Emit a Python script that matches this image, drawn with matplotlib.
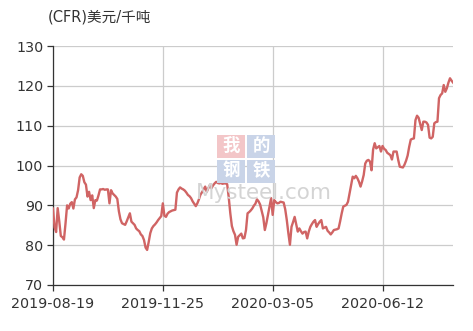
import numpy as np
import pandas as pd
from matplotlib import pyplot as plt
from matplotlib.patches import Rectangle

plt.rcParams['font.family'] = ['DejaVu Sans', 'Noto Sans CJK SC']

# trading days (index holidays removed) and CFR price, USD/dmt
holidays = ['2019-12-25', '2019-12-26', '2020-01-01', '2020-04-10']
dates = pd.bdate_range('2019-08-19', '2020-08-14', freq='C', holidays=holidays)
tick_dates = ['2019-08-19', '2019-11-25', '2020-03-05', '2020-06-12']
unit = '(CFR)美元/千吨'
price = [
    89.2, 84.5, 83.3, 89.3, 86.0, 82.3, 82.0, 81.4, 85.5, 90.0,
    89.2, 90.4, 90.8, 89.2, 91.5, 92.0, 93.8, 97.0, 97.8, 97.4,
    95.8, 95.2, 92.2, 93.4, 91.3, 92.5, 89.3, 91.3, 91.2, 92.5,
    94.0, 94.0, 94.1, 93.9, 94.0, 94.0, 90.5, 93.8, 93.0, 92.6,
    92.2, 91.6, 88.5, 86.5, 85.5, 85.3, 85.1, 86.0, 87.0, 88.0,
    85.9, 85.5, 85.1, 84.2, 83.8, 83.5, 82.7, 82.3, 81.3, 79.4,
    78.8, 80.8, 83.0, 84.2, 84.8, 85.2, 85.7, 86.3, 86.8, 87.3,
    90.5, 87.4, 87.1, 87.9, 88.3, 88.5, 88.7, 88.8, 88.9, 93.2,
    94.0, 94.5, 94.2, 94.0, 93.7, 93.2, 92.6, 92.3, 91.8, 91.0,
    90.4, 89.8, 90.5, 91.5, 92.7, 93.3, 94.0, 94.7, 93.4, 94.3,
    95.1, 94.3, 95.0, 95.5, 95.9, 95.6, 95.5, 95.6, 95.4, 95.5,
    95.5, 95.3, 92.0, 88.0, 84.8, 83.5, 82.6, 80.1, 82.1, 82.5,
    82.9, 81.7, 81.8, 83.8, 88.0, 88.3, 88.7, 89.2, 89.9, 90.4,
    91.5, 91.0, 90.2, 88.6, 87.0, 83.8, 85.5, 87.6, 89.8, 91.8,
    87.6, 91.3, 90.8, 90.5, 90.6, 90.9, 90.8, 90.7, 89.0, 86.3,
    83.0, 80.1, 84.6, 85.8, 87.1, 85.2, 83.4, 84.2, 83.5, 82.9,
    83.3, 83.4, 81.7, 83.4, 84.6, 85.3, 85.9, 86.3, 84.6, 85.3,
    85.9, 86.3, 84.2, 84.4, 84.6, 83.6, 83.2, 82.7, 83.2, 83.8,
    83.9, 84.0, 84.2, 86.0, 88.0, 89.7, 89.9, 90.1, 90.9, 93.0,
    95.0, 97.2, 96.8, 97.4, 96.8, 95.9, 94.7, 96.0, 97.6, 100.5,
    101.2, 101.4, 101.0, 98.8, 104.0, 105.6, 104.3, 104.6, 104.9, 103.5,
    104.9, 104.2, 103.9, 103.2, 102.9, 102.6, 101.5, 103.5, 103.5, 103.5,
    101.4, 99.7, 99.6, 99.5, 100.2, 101.2, 102.5, 104.7, 106.5, 106.7,
    106.8, 111.4, 112.5, 112.0, 110.5, 108.9, 111.0, 111.0, 110.8, 110.2,
    107.0, 106.8, 107.2, 110.6, 110.9, 111.0, 116.9, 117.7, 118.1, 120.2,
    118.5, 119.4, 120.8, 121.9, 121.3, 120.8,
]

labels = [d.strftime('%Y-%m-%d') for d in dates]
x = np.arange(len(labels))
tick_pos = [labels.index(d) for d in tick_dates]

W, H = 473, 331
fig = plt.figure(figsize=(4.73, 3.31), dpi=100)
ax = fig.add_axes([0.112, 0.139, 0.846, 0.722])

# watermark: four coloured blocks plus the site name
for ch, bx, by, fc in [('我', 217, 135, '#f3c6c8'), ('的', 247, 135, '#c9d4e8'),
                       ('钢', 217, 160, '#c9d4e8'), ('铁', 247, 160, '#c9d4e8')]:
    fig.patches.append(Rectangle((bx / W, 1 - (by + 23) / H), 28 / W, 23 / H,
                                 transform=fig.transFigure, fc=fc, ec='none', zorder=0))
    fig.text((bx + 14) / W, 1 - (by + 11) / H, ch, ha='center', va='center', color='white',
             fontsize=12.5, family=['Noto Sans CJK SC'], fontweight='bold', zorder=1)
fig.text(264 / W, 1 - 193 / H, 'Mysteel.com', ha='center', va='center', color='#d4d4d4',
         fontsize=15.5, zorder=1)

ax.plot(x, price, color='#d06464', lw=1.7, zorder=3)
ax.set_xlim(0, len(labels) - 1)
ax.set_ylim(70, 130)
ax.set_yticks(range(70, 131, 10))
ax.set_xticks(tick_pos, tick_dates)
ax.patch.set_alpha(0)

ax.grid(color='#cccccc', lw=0.9)
ax.set_axisbelow(True)
for s in ['top', 'right']:
    ax.spines[s].set_visible(False)
for s in ['left', 'bottom']:
    ax.spines[s].set_color('#333333')
    ax.spines[s].set_linewidth(0.9)
ax.tick_params(axis='both', colors='#333333', labelsize=10.3, length=4, width=0.9)
ax.tick_params(axis='x', pad=5)
ax.tick_params(axis='y', pad=3)

fig.text(48 / W, 1 - 17 / H, unit, ha='left', va='center', color='#333333', fontsize=10.5)

fig.savefig('out.png', dpi=100)
